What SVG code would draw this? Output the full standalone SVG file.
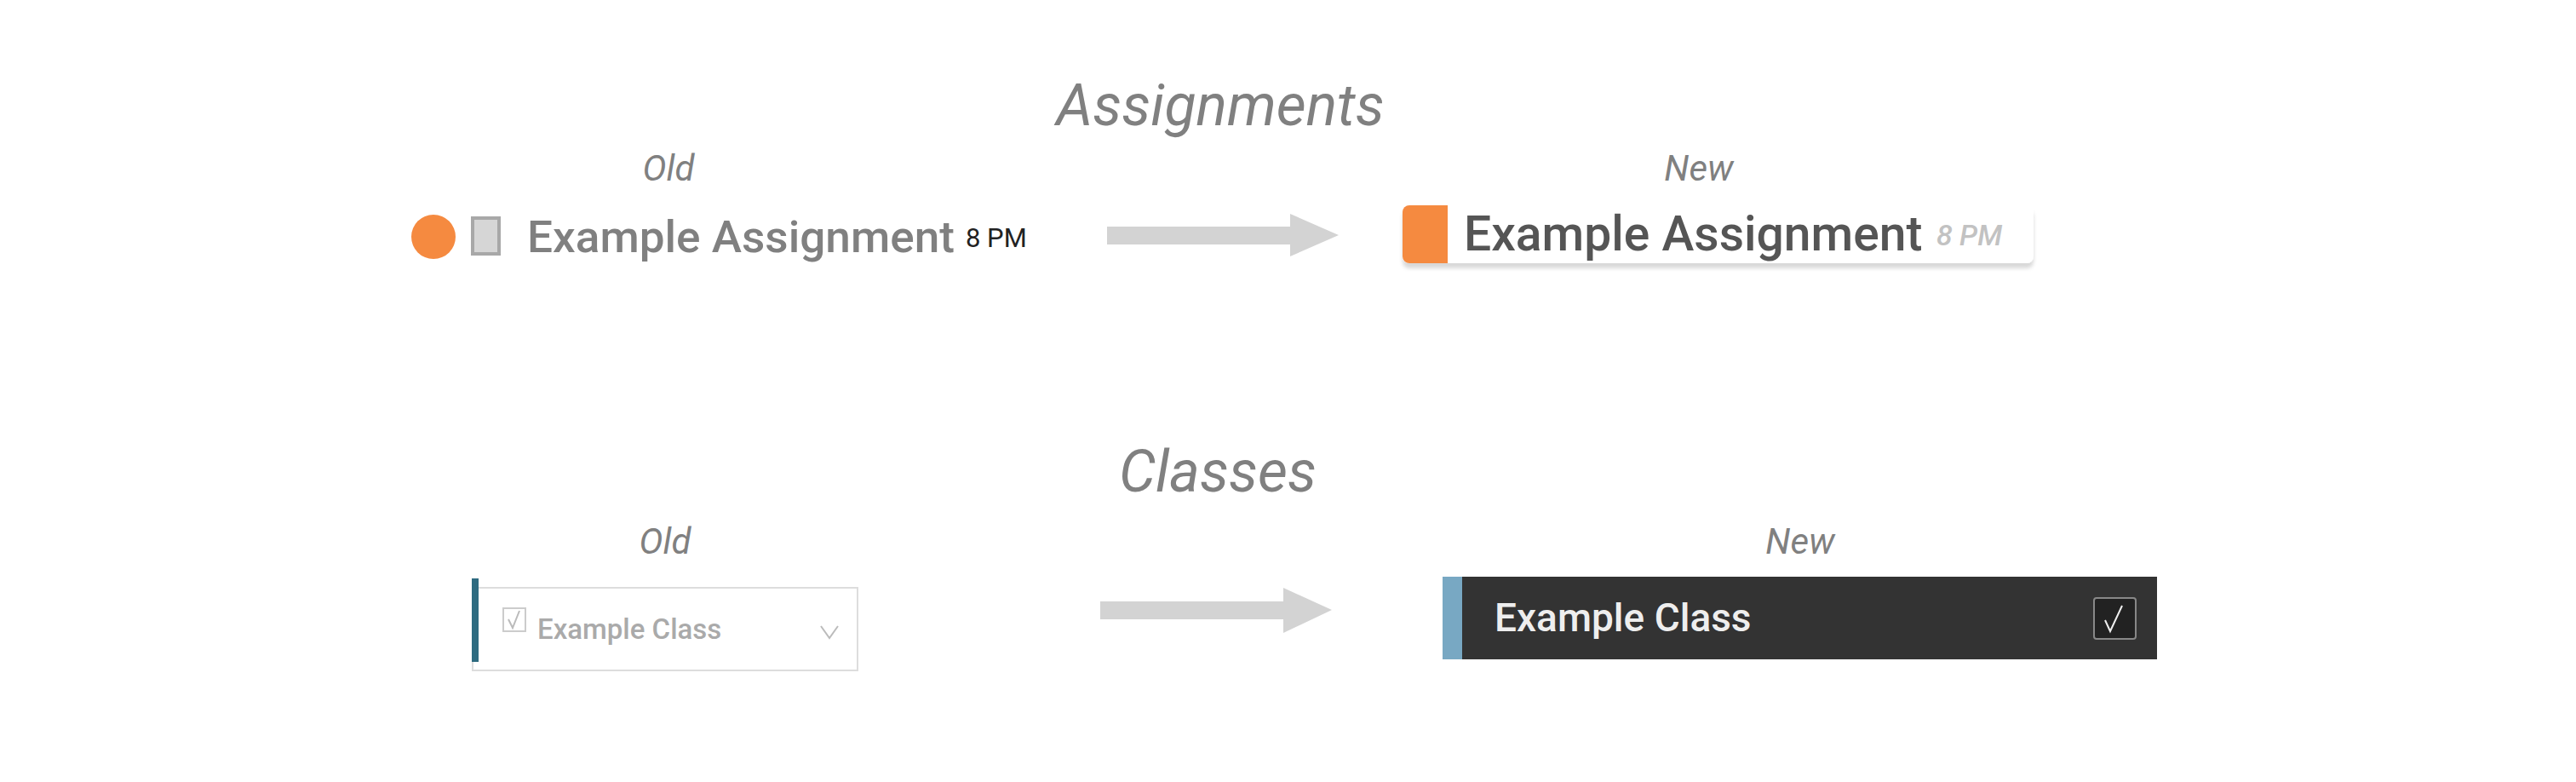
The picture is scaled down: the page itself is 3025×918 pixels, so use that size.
<svg xmlns="http://www.w3.org/2000/svg" width="3025" height="918" viewBox="0 0 3025 918">
<style>
.h{font-family:Roboto,"Liberation Sans",sans-serif;font-style:italic;fill:#808080;text-anchor:middle}
.t{font-family:Roboto,"Liberation Sans",sans-serif}
.arr{fill:#d3d3d3}
</style>
<defs>
<filter id="sh" x="-5%" y="-20%" width="110%" height="150%"><feDropShadow dx="0" dy="6" stdDeviation="2" flood-color="#000" flood-opacity="0.15"/></filter>
</defs>
<rect width="3025" height="918" fill="#fff"/>
<text class="h" x="1433" y="147" font-size="68">Assignments</text>
<text class="h" x="785" y="212" font-size="42">Old</text>
<text class="h" x="1995" y="212" font-size="42">New</text>
<text class="h" x="1430" y="577" font-size="68">Classes</text>
<text class="h" x="781" y="650" font-size="42">Old</text>
<text class="h" x="2114" y="650" font-size="42">New</text>
<g id="old-assignment">
<circle cx="509" cy="278" r="26" fill="#f58a40"/>
<rect x="555" y="256" width="31" height="42" fill="#d6d6d6" stroke="#a8a8a8" stroke-width="4"/>
<text class="t" x="619" y="296" font-size="52" font-weight="500" fill="#808080" textLength="502" lengthAdjust="spacingAndGlyphs">Example Assignment</text>
<text class="t" x="1134" y="290" font-size="31" fill="#222">8 PM</text>
</g>
<g id="new-assignment">
<rect x="1647" y="241" width="741" height="68" rx="8" fill="#fff" filter="url(#sh)"/>
<path d="M1655 241H1700V309H1655a8 8 0 0 1-8-8V249a8 8 0 0 1 8-8z" fill="#f58a40"/>
<text class="t" x="1719" y="294" font-size="57" font-weight="500" fill="#555">Example Assignment</text>
<text class="t" x="2274" y="288" font-size="34" font-style="italic" font-weight="500" fill="#c2c2c2">8 PM</text>
</g>
<g id="old-class">
<rect x="555" y="690" width="452" height="97" fill="#fff" stroke="#ddd" stroke-width="2"/>
<rect x="554" y="679" width="8" height="98" fill="#2e6b80"/>
<rect x="591" y="714" width="26" height="27" fill="none" stroke="#ccc" stroke-width="2"/>
<path d="M597 727l5 10 8-20" fill="none" stroke="#bbb" stroke-width="2"/>
<text class="t" x="631" y="750" font-size="33" font-weight="500" fill="#aaa">Example Class</text>
<path d="M964 735l10 14 10-14" fill="none" stroke="#bbb" stroke-width="2"/>
</g>
<g id="new-class">
<rect x="1694" y="677" width="839" height="97" fill="#333"/>
<rect x="1694" y="677" width="23" height="97" fill="#78a8c3"/>
<text class="t" x="1755" y="741" font-size="46" font-weight="500" fill="#eee">Example Class</text>
<rect x="2459" y="702" width="49" height="48" rx="3" fill="#222" stroke="#888" stroke-width="2"/>
<path d="M2472 728l6 13 14-30" fill="none" stroke="#eee" stroke-width="2"/>
</g>
<g id="connectors">
<path class="arr" d="M1300 266H1515V251L1572 276L1515 301V287H1300z"/>
<path class="arr" d="M1292 706H1507V690L1564 716L1507 743V727H1292z"/>
</g>
</svg>
